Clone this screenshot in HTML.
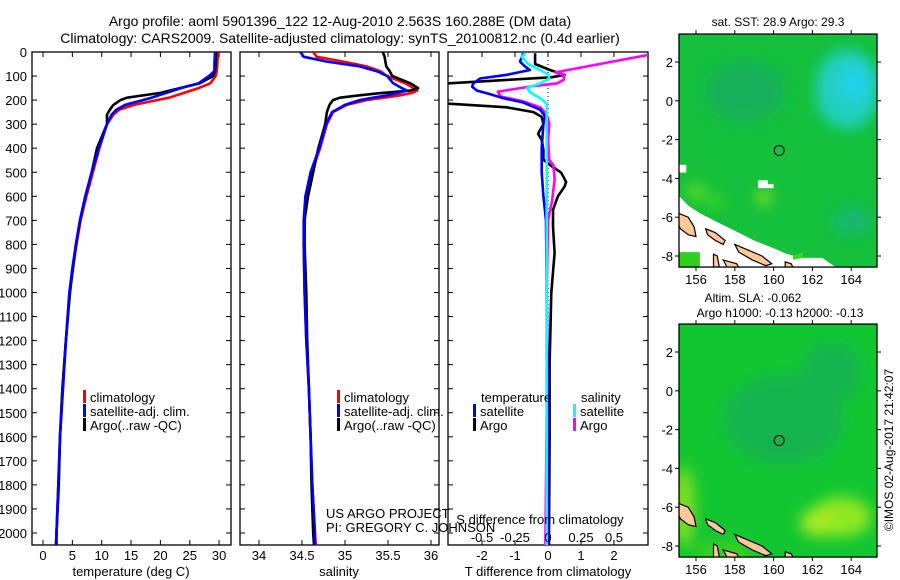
<!DOCTYPE html>
<html><head><meta charset="utf-8">
<style>
html,body{margin:0;padding:0;background:#fff;}
svg{display:block;font-family:"Liberation Sans",sans-serif;}
text{fill:#000;}
</style></head>
<body>
<svg id="fig" width="900" height="580" viewBox="0 0 900 580" xmlns="http://www.w3.org/2000/svg">
<defs>
  <filter id="blur6" x="-50%" y="-50%" width="200%" height="200%"><feGaussianBlur stdDeviation="7"/></filter>
  <filter id="blur3" x="-50%" y="-50%" width="200%" height="200%"><feGaussianBlur stdDeviation="3"/></filter>
  <clipPath id="clipT"><rect x="32" y="52" width="199" height="493"/></clipPath>
  <clipPath id="clipS"><rect x="240" y="52" width="199" height="493"/></clipPath>
  <clipPath id="clipD"><rect x="448" y="52" width="200" height="493"/></clipPath>
  <clipPath id="clipM1"><rect x="679" y="34" width="198" height="233"/></clipPath>
  <clipPath id="clipM2"><rect x="679" y="323" width="198" height="234"/></clipPath>
</defs>
<text x="340" y="26" font-size="14" text-anchor="middle">Argo profile: aoml 5901396_122 12-Aug-2010 2.563S 160.288E (DM data)</text>
<text x="340" y="43" font-size="14" text-anchor="middle">Climatology: CARS2009. Satellite-adjusted climatology: synTS_20100812.nc (0.4d earlier)</text>
<g id="g-axes"></g>
<g id="g-lines"></g>
<g id="g-maps"></g>
<g id="g-text"></g>
</svg>
<script>
// ---------- profile data (depth in m) ----------
const tDepth = [0,50,80,100,130,150,170,190,200,220,240,260,300,400,500,600,700,800,900,1000,1200,1400,1600,1800,2000,2050];
const tClim  = [29.8,29.7,29.6,29.4,28.5,26.5,24,21.5,19.4,15.5,13,12,10.9,9.6,8.5,7.4,6.4,5.7,5.1,4.5,3.9,3.3,2.9,2.6,2.3,2.2];
const tSat   = [29.3,29.2,29.2,28.3,26.5,23.5,21,18.5,17,14,12.5,11.7,10.9,9.5,8.3,7.2,6.3,5.6,5.0,4.5,3.9,3.4,2.9,2.6,2.3,2.2];
const tArgo  = [29.5,29.4,29.3,29.0,26.7,23.3,20,14.3,13.2,12,11.4,10.9,10.9,9.2,8.3,7.2,6.3,5.6,5.1,4.6,3.9,3.3,2.9,2.7,2.3,2.3];
const sDepth = [0,20,40,60,80,100,130,150,160,170,180,190,200,220,250,300,400,500,600,700,800,1000,1200,1400,1600,1800,2000,2050];
const sClim  = [34.63,34.67,34.98,35.25,35.41,35.49,35.70,35.80,35.84,35.78,35.64,35.45,35.25,35.02,34.86,34.79,34.71,34.61,34.55,34.53,34.52,34.53,34.55,34.58,34.60,34.62,34.65,34.66];
const sSat   = [34.48,34.52,34.79,35.17,35.37,35.49,35.56,35.66,35.72,35.62,35.49,35.33,35.17,35.0,34.85,34.78,34.70,34.60,34.54,34.52,34.52,34.53,34.55,34.58,34.60,34.62,34.65,34.65];
const sArgo  = [35.44,35.46,35.47,35.48,35.52,35.55,35.76,35.85,35.76,35.44,35.17,34.94,34.86,34.82,34.79,34.77,34.69,34.63,34.57,34.53,34.53,34.55,34.56,34.58,34.60,34.61,34.63,34.64];
// differences from climatology
const dTDepth = [5,50,75,95,105,130,140,210,215,230,250,270,300,324,340,365,407,448,470,502,540,560,600,656,725,835,1000,1300,1600,2000,2050];
const dTArgo  = [-0.39,-0.39,0.06,0.5,0.1,-3,-3.5,-3.5,-3,-1.25,-0.44,-0.19,-0.14,-0.24,-0.3,-0.19,-0.14,-0.14,0.06,0.4,0.55,0.5,0.3,0.15,0.15,0.2,0.1,0.05,0.05,0.03,0.03];
const dTSatDepth = [5,40,60,75,95,110,130,144,160,175,192,210,240,265,300,400,500,600,700,1000,1500,2050];
const dTSat   = [-0.75,-0.85,-0.7,-0.55,-1.25,-2.06,-2.26,-2.3,-2.16,-1.76,-1.35,-0.75,-0.24,-0.1,-0.14,-0.19,-0.19,-0.14,-0.06,-0.04,0.0,0.0];
const dSSatDepth = [5,20,50,75,95,110,130,150,170,192,215,300,600,1000,1500,2050];
const dSSat   = [-0.17,-0.2,-0.15,-0.06,0.0,0.01,-0.06,-0.16,-0.13,-0.06,-0.01,-0.01,-0.01,-0.01,-0.01,-0.01];
const dSArgoDepth = [8,85,95,115,130,144,165,185,205,230,260,300,370,450,470,530,620,700,1000,1500,2050];
const dSArgo  = [0.8,0.055,0.12,0.12,0.07,-0.14,-0.38,-0.36,-0.19,-0.06,-0.01,0.01,0.0,0.01,0.04,0.05,0.03,0.0,-0.01,-0.01,-0.02];
// tick labels
const depthTicks = [0,100,200,300,400,500,600,700,800,900,1000,1100,1200,1300,1400,1500,1600,1700,1800,1900,2000];
const tTicks = [0,5,10,15,20,25,30];
const sTicks = [34,34.5,35,35.5,36];
const sTickLabels = ["34","34.5","35","35.5","36"];
const dTTicks = [-2,-1,0,1,2];
const dSTicks = [-0.5,-0.25,0,0.25,0.5];
const dSTickLabels = ["-0.5","-0.25","0","0.25","0.5"];
const lonTicks = [156,158,160,162,164];
const latTicks = [2,0,-2,-4,-6,-8];
const floatLon = 160.288, floatLat = -2.563;

// ---------- scales ----------
const yD = d => 52 + d*0.2405;
const xT = v => 43 + v*5.87;
const xS = v => 259 + (v-34)*86;
const xDT = v => 548 + v*33;
const xDS = v => 548 + v*132;
const lonX = v => 696 + (v-156)*19.4;
const latY1 = v => 62 + (2-v)*19.4;
const latY2 = v => 352 + (2-v)*19.4;

const NS = "http://www.w3.org/2000/svg";
function mk(tag, attrs, parent){
  const e = document.createElementNS(NS, tag);
  for (const k in attrs) e.setAttribute(k, attrs[k]);
  parent.appendChild(e); return e;
}
const gA = document.getElementById('g-axes');
const gL = document.getElementById('g-lines');
const gM = document.getElementById('g-maps');
const gT = document.getElementById('g-text');

function txt(x,y,s,size,anchor,name,parent){
  const t = mk('text',{x:x,y:y,'font-size':size,'text-anchor':anchor},parent||gT);
  t.textContent = s;
  
  
  return t;
}

// ---------- panels ----------
function panel(x0,w,name){
  const r = mk('rect',{x:x0,y:52,width:w,height:493,fill:'none',stroke:'#000','stroke-width':1.3},gA);
  
  
  depthTicks.forEach(d=>{
    mk('line',{x1:x0,x2:x0+5,y1:yD(d),y2:yD(d),stroke:'#000'},gA);
    mk('line',{x1:x0+w-5,x2:x0+w,y1:yD(d),y2:yD(d),stroke:'#000'},gA);
  });
}
panel(32,199,'temperature-panel');
panel(240,199,'salinity-panel');
panel(448,200,'difference-panel');
depthTicks.forEach(d=>{ txt(27,yD(d)+5,String(d),13,'end','depth-tick-label'); });

tTicks.forEach((v,i)=>{
  mk('line',{x1:xT(v),x2:xT(v),y1:545,y2:540,stroke:'#000'},gA);
  mk('line',{x1:xT(v),x2:xT(v),y1:52,y2:57,stroke:'#000'},gA);
  txt(xT(v),560,String(v),13,'middle','temperature-tick-label');
});
sTicks.forEach((v,i)=>{
  mk('line',{x1:xS(v),x2:xS(v),y1:545,y2:540,stroke:'#000'},gA);
  mk('line',{x1:xS(v),x2:xS(v),y1:52,y2:57,stroke:'#000'},gA);
  txt(xS(v),560,sTickLabels[i],13,'middle','salinity-tick-label');
});
dTTicks.forEach(v=>{
  mk('line',{x1:xDT(v),x2:xDT(v),y1:545,y2:540,stroke:'#000'},gA);
  mk('line',{x1:xDT(v),x2:xDT(v),y1:52,y2:57,stroke:'#000'},gA);
  txt(xDT(v),560,String(v),13,'middle','t-difference-tick-label');
});
dSTicks.forEach((v,i)=>{ txt(xDS(v),542,dSTickLabels[i],13,'middle','s-difference-tick-label'); });
txt(131,576,'temperature (deg C)',13,'middle','temperature-axis-title');
txt(339,576,'salinity',13,'middle','salinity-axis-title');
txt(548,576,'T difference from climatology',13,'middle','t-difference-axis-title');
txt(540,524,'S difference from climatology',13,'middle','s-difference-axis-title');
mk('line',{x1:548,x2:548,y1:52,y2:545,stroke:'#000','stroke-dasharray':'1,3'},gA);

// ---------- series ----------
function series(xs, ds, xf, color, clip, name, w){
  const pts = xs.map((v,i)=> xf(v).toFixed(1)+','+yD(ds[i]).toFixed(1)).join(' ');
  const p = mk('polyline',{points:pts,fill:'none',stroke:color,'stroke-width':w||2.6,'stroke-linejoin':'round','clip-path':'url(#'+clip+')'},gL);
  
  
}
series(tClim,tDepth,xT,'#ff0000','clipT','temperature-climatology-line');
series(tArgo,tDepth,xT,'#000000','clipT','temperature-argo-line');
series(tSat,tDepth,xT,'#0000ff','clipT','temperature-satellite-line');
series(sClim,sDepth,xS,'#ff0000','clipS','salinity-climatology-line');
series(sArgo,sDepth,xS,'#000000','clipS','salinity-argo-line');
series(sSat,sDepth,xS,'#0000ff','clipS','salinity-satellite-line');
series(dTArgo,dTDepth,xDT,'#000000','clipD','t-diff-argo-line');
series(dSArgo,dSArgoDepth,xDS,'#ff00ff','clipD','s-diff-argo-line');
series(dTSat,dTSatDepth,xDT,'#0000ff','clipD','t-diff-satellite-line');
series(dSSat,dSSatDepth,xDS,'#00ffff','clipD','s-diff-satellite-line');

// ---------- legends ----------
function legItem(x,y,color,label,name){
  mk('rect',{x:x,y:y-12,width:3,height:13,fill:color},gT);
  const t = txt(x+7,y,label,13,'start',name);
}
legItem(83,402,'#ff0000','climatology','legend-climatology');
legItem(83,416,'#0000ff','satellite-adj. clim.','legend-satellite-adj');
legItem(83,430,'#000000','Argo(..raw -QC)','legend-argo');
legItem(337,402,'#ff0000','climatology','legend-climatology-s');
legItem(337,416,'#0000ff','satellite-adj. clim.','legend-satellite-adj-s');
legItem(337,430,'#000000','Argo(..raw -QC)','legend-argo-s');
txt(481,402,'temperature',13,'start','legend-temperature-heading');
txt(581,402,'salinity',13,'start','legend-salinity-heading');
legItem(473,416,'#0000ff','satellite','legend-t-satellite');
legItem(473,430,'#000000','Argo','legend-t-argo');
legItem(573,416,'#00ffff','satellite','legend-s-satellite');
legItem(573,430,'#ff00ff','Argo','legend-s-argo');
txt(326,518,'US ARGO PROJECT',13,'start','project-credit');
txt(326,532,'PI: GREGORY C. JOHNSON',13,'start','pi-credit');

// ---------- maps ----------
function lp(arr, yf){ return arr.map(p=>lonX(p[0]).toFixed(1)+','+yf(p[1]).toFixed(1)).join(' '); }
const islands = [
 [[155.1,-5.8],[155.6,-6.0],[155.9,-6.5],[156.0,-7.0],[155.6,-6.9],[155.2,-6.6],[155.1,-6.4]],
 [[156.5,-6.6],[157.0,-6.8],[157.5,-7.2],[157.4,-7.4],[157.0,-7.2],[156.6,-6.9]],
 [[158.0,-7.4],[158.7,-7.7],[159.4,-8.0],[159.9,-8.4],[159.6,-8.5],[158.9,-8.2],[158.2,-7.8]],
 [[156.9,-7.9],[157.1,-8.0],[157.2,-8.57],[156.9,-8.57]],
 [[157.4,-8.2],[158.1,-8.4],[158.2,-8.57],[157.6,-8.57]],
 [[160.6,-8.3],[160.9,-8.4],[161.0,-8.57],[160.6,-8.57]]
];
function drawMap(yf, clip, name, isSST){
  const g = mk('g',{'clip-path':'url(#'+clip+')'},gM);
  
  
  const y0 = yf(3.44), y1 = yf(-8.57);
  mk('rect',{x:679,y:y0,width:198,height:y1-y0,fill:isSST?'#14c03c':'#12c632'},g);
  const blobs = mk('g',{filter:'url(#blur6)'},g);
  if (isSST){
    mk('ellipse',{cx:lonX(163.8),cy:yf(0.6),rx:32,ry:40,fill:'#20cfc0'},blobs);
    mk('ellipse',{cx:lonX(164.2),cy:yf(0.9),rx:15,ry:18,fill:'#22d2ea'},blobs);
    mk('ellipse',{cx:lonX(158.5),cy:yf(0.5),rx:40,ry:30,fill:'#12b05a'},blobs);
    mk('ellipse',{cx:lonX(164),cy:yf(-6.2),rx:20,ry:14,fill:'#14b870'},blobs);
    mk('ellipse',{cx:lonX(156),cy:yf(-4.7),rx:10,ry:8,fill:'#60dc20'},blobs);
    mk('ellipse',{cx:lonX(159.5),cy:yf(-5),rx:6,ry:8,fill:'#a0e820'},blobs);
    mk('ellipse',{cx:lonX(157),cy:yf(-5.2),rx:10,ry:6,fill:'#40d820'},blobs);
    mk('polygon',{points:lp([[155.12,-3.3],[155.5,-3.3],[155.5,-3.7],[155.12,-3.7]],yf),fill:'#fff'},g);
    mk('polygon',{points:lp([[159.2,-4.1],[159.7,-4.1],[159.7,-4.3],[160,-4.3],[160,-4.5],[159.2,-4.5]],yf),fill:'#fff'},g);
    mk('polygon',{points:lp([[155.12,-4.9],[155.6,-5.4],[156.2,-5.8],[157,-6.2],[158,-6.7],[159,-7.2],[160,-7.6],[160.7,-7.9],[161.5,-8.1],[162.5,-8.1],[163.2,-8.57],[155.12,-8.57]],yf),fill:'#fff'},g);
    mk('polygon',{points:lp([[155.12,-7.8],[156.2,-7.8],[156.2,-8.57],[155.12,-8.57]],yf),fill:'#30d020'},g);
    mk('polygon',{points:lp([[161,-8.0],[161.5,-7.8],[161.5,-8.1],[161,-8.2]],yf),fill:'#3cd820'},g);
  } else {
    mk('ellipse',{cx:lonX(160.5),cy:yf(-1.5),rx:60,ry:45,fill:'#14b450'},blobs);
    mk('ellipse',{cx:lonX(163),cy:yf(1),rx:30,ry:30,fill:'#12b450'},blobs);
    mk('ellipse',{cx:lonX(163.5),cy:yf(-6.5),rx:30,ry:20,fill:'#8ee820'},blobs);
    mk('ellipse',{cx:lonX(162.3),cy:yf(-6.8),rx:18,ry:14,fill:'#a6ea20'},blobs);
    mk('ellipse',{cx:lonX(155.4),cy:yf(-6),rx:10,ry:40,fill:'#88e020'},blobs);
    mk('ellipse',{cx:lonX(157.5),cy:yf(-8.3),rx:30,ry:10,fill:'#40d020'},blobs);
  }
  islands.forEach(isl=>{
    mk('polygon',{points:lp(isl,yf),fill:'#ffc896',stroke:'#000','stroke-width':1.2},g);
  });
  mk('rect',{x:679,y:y0,width:198,height:y1-y0,fill:'none',stroke:'#000','stroke-width':1.3},gM);
  const c = mk('circle',{cx:lonX(floatLon),cy:yf(floatLat),r:5,fill:'none',stroke:'#000','stroke-width':1},gM);
  
  
  lonTicks.forEach(v=>{
    mk('line',{x1:lonX(v),x2:lonX(v),y1:y0-4,y2:y0,stroke:'#000'},gM);
    mk('line',{x1:lonX(v),x2:lonX(v),y1:y1,y2:y1+4,stroke:'#000'},gM);
    txt(lonX(v),y1+17,String(v),13,'middle','longitude-tick-label');
  });
  latTicks.forEach(v=>{
    mk('line',{x1:675,x2:679,y1:yf(v),y2:yf(v),stroke:'#000'},gM);
    mk('line',{x1:877,x2:881,y1:yf(v),y2:yf(v),stroke:'#000'},gM);
    txt(673,yf(v)+5,String(v),13,'end','latitude-tick-label');
  });
}
drawMap(latY1,'clipM1','sst-map',true);
drawMap(latY2,'clipM2','sla-map',false);
txt(778,26,'sat. SST: 28.9 Argo: 29.3',12,'middle','sst-map-title');
txt(753,302,'Altim. SLA: -0.062',12,'middle','sla-map-title');
txt(780,317,'Argo h1000: -0.13 h2000: -0.13',12,'middle','sla-map-subtitle');
const cr = txt(0,0,'©IMOS 02-Aug-2017 21:42:07',12,'middle','copyright-stamp');
cr.setAttribute('transform','translate(893,450) rotate(-90)');
</script>
</body></html>
